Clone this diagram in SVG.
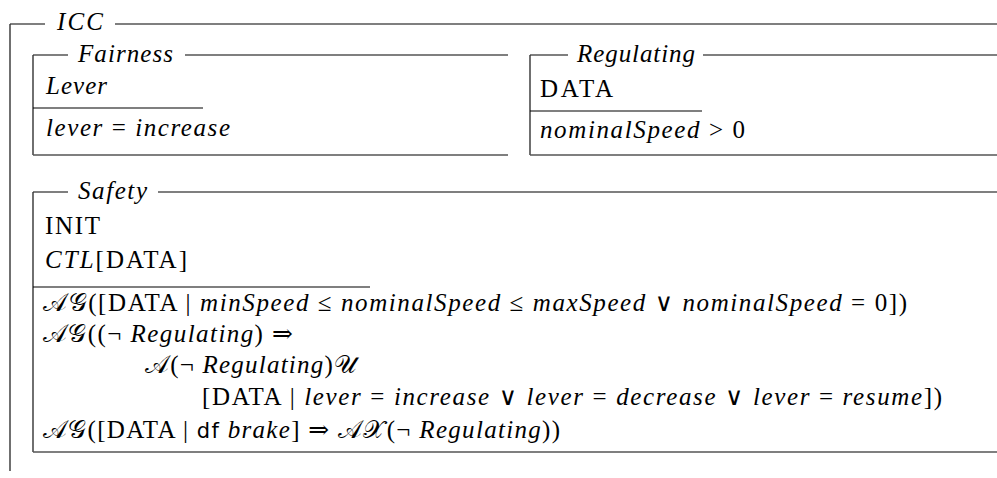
<svg xmlns="http://www.w3.org/2000/svg" width="997" height="478" viewBox="0 0 997 478">
  <style>
    .t { font-family: "Liberation Serif", "DejaVu Serif", serif; font-size: 25px; fill: #000; }
    .i { font-style: italic; }
    .r { font-style: normal; }
    .cal { font-family: "DejaVu Serif", "Noto Sans", serif; font-style: normal; font-weight: normal; }
    .sf { font-family: "DejaVu Sans", "Liberation Sans", sans-serif; font-style: normal; font-size: 21px; }
    .top { stroke: #000; stroke-width: 1.2; fill: none; }
    .side { stroke: #333; stroke-width: 1.4; fill: none; }
    .bot { stroke: #555; stroke-width: 1.6; fill: none; }
    .sep { stroke: #000; stroke-width: 1.2; fill: none; }
  </style>
  <rect width="997" height="478" fill="#fff"/>

  <!-- outer schema ICC -->
  <g id="icc">
    <path class="top" d="M10 24 H45 M115 24 H997"/>
    <path class="side" d="M10 24 V471"/>
    <text class="t i" x="57" y="30" textLength="46">ICC</text>
  </g>

  <!-- Fairness schema -->
  <g id="fairness">
    <path class="top" d="M33 55 H68 M185 55 H508"/>
    <path class="side" d="M33 55 V155"/>
    <path class="bot" d="M33 155 H508"/>
    <path class="sep" d="M33 108 H203"/>
    <text class="t i" x="78" y="62" textLength="95">Fairness</text>
    <text class="t i" x="46" y="94" textLength="61">Lever</text>
    <text class="t i" x="46" y="136" textLength="184">lever <tspan class="r">=</tspan> increase</text>
  </g>

  <!-- Regulating schema -->
  <g id="regulating">
    <path class="top" d="M530 55 H568 M703 55 H997"/>
    <path class="side" d="M530 55 V155"/>
    <path class="bot" d="M530 155 H997"/>
    <path class="sep" d="M530 111 H702"/>
    <text class="t i" x="577" y="62" textLength="118">Regulating</text>
    <text class="t r" x="540" y="97" textLength="73">DATA</text>
    <text class="t i" x="540" y="138" textLength="205">nominalSpeed <tspan class="r">&gt; 0</tspan></text>
  </g>

  <!-- Safety schema -->
  <g id="safety">
    <path class="top" d="M33 192 H68 M158 192 H997"/>
    <path class="side" d="M33 192 V452"/>
    <path class="bot" d="M33 452 H997"/>
    <path class="sep" d="M33 287 H370"/>
    <text class="t i" x="78" y="199" textLength="69">Safety</text>
    <text class="t r" x="45" y="234" textLength="55">INIT</text>
    <text class="t r" x="45" y="268" textLength="142"><tspan class="i">CTL</tspan>[DATA]</text>
    <text class="t r" x="43" y="311" textLength="864"><tspan class="cal">𝒜𝒢</tspan>([DATA | <tspan class="i">minSpeed</tspan> ≤ <tspan class="i">nominalSpeed</tspan> ≤ <tspan class="i">maxSpeed</tspan> ∨ <tspan class="i">nominalSpeed</tspan> = 0])</text>
    <text class="t r" x="43" y="342" textLength="250"><tspan class="cal">𝒜𝒢</tspan>((¬ <tspan class="i">Regulating</tspan>) ⇒</text>
    <text class="t r" x="145" y="373" textLength="212"><tspan class="cal">𝒜</tspan>(¬ <tspan class="i">Regulating</tspan>)<tspan class="cal">𝒰</tspan></text>
    <text class="t r" x="202" y="405" textLength="740">[DATA | <tspan class="i">lever</tspan> = <tspan class="i">increase</tspan> ∨ <tspan class="i">lever</tspan> = <tspan class="i">decrease</tspan> ∨ <tspan class="i">lever</tspan> = <tspan class="i">resume</tspan>])</text>
    <text class="t r" x="43" y="438" textLength="517"><tspan class="cal">𝒜𝒢</tspan>([DATA | <tspan class="sf">df</tspan> <tspan class="i">brake</tspan>] ⇒ <tspan class="cal">𝒜𝒳</tspan>(¬ <tspan class="i">Regulating</tspan>))</text>
  </g>
</svg>
